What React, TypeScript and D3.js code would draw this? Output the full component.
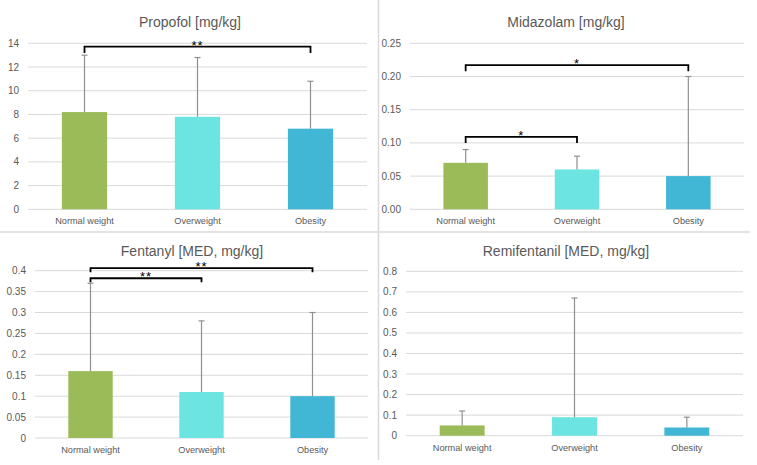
import React from "react";
import * as d3 from "d3";

const categories = ["Normal weight", "Overweight", "Obesity"];
const colors = ["#9BBB59", "#6CE5E2", "#42B7D5"];

const propofolMean = [8.2, 7.8, 6.8];
const propofolUpper = [13.0, 12.8, 10.8];
const midazolamMean = [0.07, 0.06, 0.05];
const midazolamUpper = [0.09, 0.08, 0.2];
const fentanylMean = [0.16, 0.11, 0.1];
const fentanylUpper = [0.37, 0.28, 0.3];
const remifentanilMean = [0.05, 0.09, 0.04];
const remifentanilUpper = [0.12, 0.67, 0.09];

const propofolTicks = [0, 2, 4, 6, 8, 10, 12, 14];
const midazolamTicks = [0, 0.05, 0.1, 0.15, 0.2, 0.25];
const fentanylTicks = [0, 0.05, 0.1, 0.15, 0.2, 0.25, 0.3, 0.35, 0.4];
const remifentanilTicks = [0, 0.1, 0.2, 0.3, 0.4, 0.5, 0.6, 0.7, 0.8];

// significance brackets: [from category, to category, level (data units), label]
const propofolBrackets = [{ from: 0, to: 2, level: 13.72, label: "**" }];
const midazolamBrackets = [
  { from: 0, to: 2, level: 0.217, label: "*" },
  { from: 0, to: 1, level: 0.109, label: "*" },
];
const fentanylBrackets = [
  { from: 0, to: 2, level: 0.406, label: "**" },
  { from: 0, to: 1, level: 0.382, label: "**" },
];
const remifentanilBrackets: { from: number; to: number; level: number; label: string }[] = [];

const FONT = "'Liberation Sans', Arial, sans-serif";
const TEXT = "#595959";

type PanelProps = {
  title: string;
  means: number[];
  uppers: number[];
  ticks: number[];
  fmt: (v: number) => string;
  brackets: { from: number; to: number; level: number; label: string }[];
  x0: number;
  x1: number;
  yBottom: number;
  yTop: number;
  titleX: number;
  titleY: number;
  labelY: number;
  tipLen: number;
};

function Panel(p: PanelProps) {
  const y = d3
    .scaleLinear()
    .domain([0, p.ticks[p.ticks.length - 1]])
    .range([p.yBottom, p.yTop]);
  const x = d3
    .scaleBand<string>()
    .domain(categories)
    .range([p.x0, p.x1])
    .paddingInner(0.6)
    .paddingOuter(0.3);
  const bw = x.bandwidth();
  const cx = (i: number) => (x(categories[i]) as number) + bw / 2;
  return (
    <g>
      <text
        x={p.titleX}
        y={p.titleY}
        textAnchor="middle"
        fontSize={14}
        fill={TEXT}
        fontFamily={FONT}
      >
        {p.title}
      </text>
      {p.ticks.map((t) => (
        <g key={t}>
          <line
            x1={p.x0}
            x2={p.x1}
            y1={y(t)}
            y2={y(t)}
            stroke="#d9d9d9"
            strokeWidth={1}
          />
          <text
            x={p.x0 - 9}
            y={y(t) + 3.5}
            textAnchor="end"
            fontSize={10}
            fill={TEXT}
            fontFamily={FONT}
          >
            {p.fmt(t)}
          </text>
        </g>
      ))}
      {categories.map((c, i) => (
        <g key={c}>
          <rect
            x={x(c)}
            y={y(p.means[i])}
            width={bw}
            height={y(0) - y(p.means[i])}
            fill={colors[i]}
          />
          <line
            x1={cx(i)}
            x2={cx(i)}
            y1={y(p.means[i])}
            y2={y(p.uppers[i])}
            stroke="#909090"
            strokeWidth={1.2}
          />
          <line
            x1={cx(i) - 3}
            x2={cx(i) + 3}
            y1={y(p.uppers[i])}
            y2={y(p.uppers[i])}
            stroke="#909090"
            strokeWidth={1.2}
          />
          <text
            x={cx(i)}
            y={p.labelY}
            textAnchor="middle"
            fontSize={9.2}
            fill={TEXT}
            fontFamily={FONT}
          >
            {c}
          </text>
        </g>
      ))}
      {p.brackets.map((b, k) => {
        const ly = y(b.level);
        const xa = cx(b.from);
        const xb = cx(b.to);
        return (
          <g key={k}>
            <path
              d={`M${xa},${ly + p.tipLen}V${ly}H${xb}V${ly + p.tipLen}`}
              fill="none"
              stroke="#000"
              strokeWidth={1.8}
            />
            <text
              x={(xa + xb) / 2}
              y={ly + 3}
              textAnchor="middle"
              fontSize={13}
              letterSpacing={1}
              fill="#000"
              fontFamily={FONT}
            >
              {b.label}
            </text>
          </g>
        );
      })}
    </g>
  );
}

const fmtInt = (v: number) => d3.format("d")(v);
const fmt2 = (v: number) => d3.format(".2f")(v);
const fmtGen = (v: number) => (v === 0 ? "0" : String(+v.toFixed(2)));

export default function App() {
  return (
    <svg
      width={757}
      height={465}
      style={{ position: "absolute", left: 0, top: 0, background: "#fff" }}
    >
      <rect x={0} y={0} width={757} height={465} fill="#fff" />
      <line x1={378.5} x2={378.5} y1={0} y2={460} stroke="#d9d9d9" strokeWidth={1.5} />
      <line x1={0} x2={750} y1={232} y2={232} stroke="#e3e3e3" strokeWidth={2} />
      <Panel
        title="Propofol [mg/kg]"
        means={propofolMean}
        uppers={propofolUpper}
        ticks={propofolTicks}
        fmt={fmtInt}
        brackets={propofolBrackets}
        x0={28}
        x1={367}
        yBottom={209.3}
        yTop={43.3}
        titleX={190}
        titleY={27}
        labelY={224}
        tipLen={6.5}
      />
      <Panel
        title="Midazolam [mg/kg]"
        means={midazolamMean}
        uppers={midazolamUpper}
        ticks={midazolamTicks}
        fmt={fmt2}
        brackets={midazolamBrackets}
        x0={410}
        x1={744}
        yBottom={209.3}
        yTop={43.3}
        titleX={566}
        titleY={27}
        labelY={224}
        tipLen={6}
      />
      <Panel
        title="Fentanyl [MED, mg/kg]"
        means={fentanylMean}
        uppers={fentanylUpper}
        ticks={fentanylTicks}
        fmt={fmtGen}
        brackets={fentanylBrackets}
        x0={35}
        x1={368}
        yBottom={438}
        yTop={270.7}
        titleX={192}
        titleY={256}
        labelY={453}
        tipLen={4}
      />
      <Panel
        title="Remifentanil [MED, mg/kg]"
        means={remifentanilMean}
        uppers={remifentanilUpper}
        ticks={remifentanilTicks}
        fmt={fmtGen}
        brackets={remifentanilBrackets}
        x0={406}
        x1={743}
        yBottom={435.7}
        yTop={271.3}
        titleX={566}
        titleY={256}
        labelY={451}
        tipLen={4}
      />
    </svg>
  );
}
